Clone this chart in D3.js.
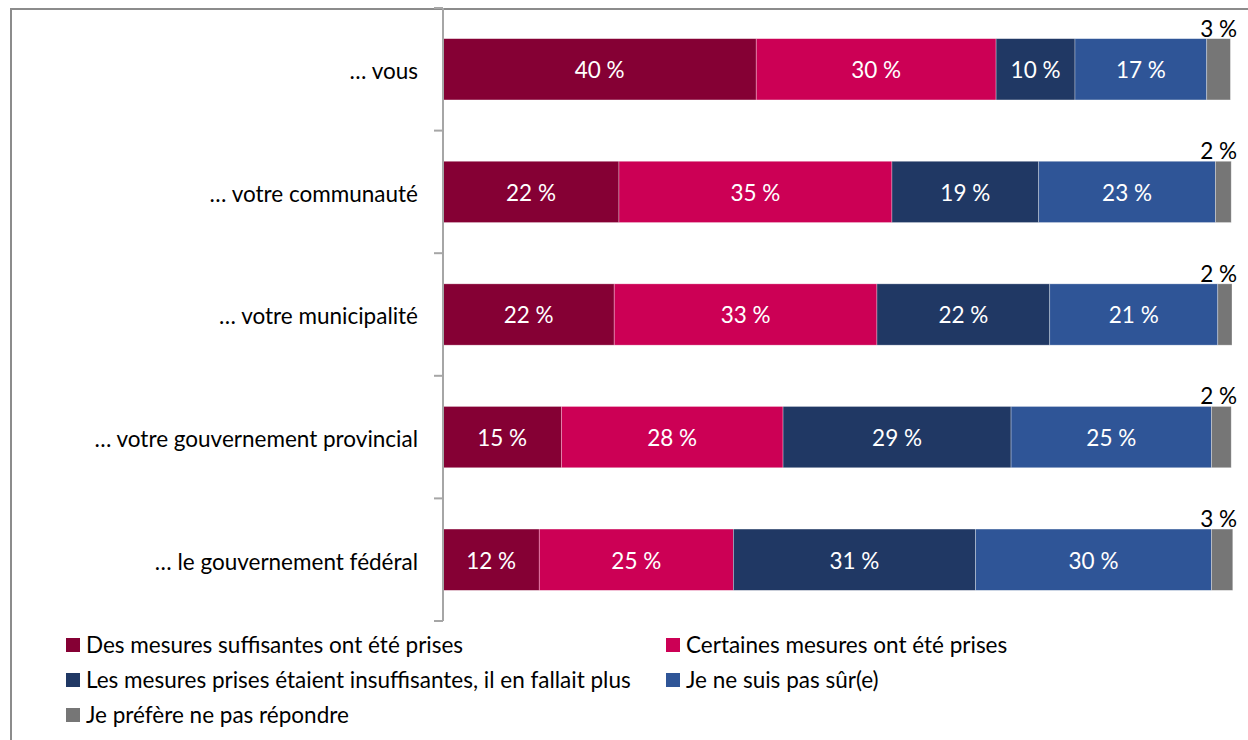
<!DOCTYPE html>
<html><head><meta charset="utf-8">
<script src="https://cdn.jsdelivr.net/npm/d3@7"></script>
<style>html,body{margin:0;padding:0;background:#fff;}svg{display:block;font-family:Lato,"Open Sans",sans-serif;}</style>
</head><body>
<svg id="c" width="1248" height="740"></svg>
<script>
const categories = ["… vous","… votre communauté","… votre municipalité","… votre gouvernement provincial","… le gouvernement fédéral"];
const seriesNames = ["Des mesures suffisantes ont été prises","Certaines mesures ont été prises","Les mesures prises étaient insuffisantes, il en fallait plus","Je ne suis pas sûr(e)","Je préfère ne pas répondre"];
const sufficient = [39.7,22.3,21.7,15.0,12.2];
const some = [30.4,34.6,33.3,28.1,24.6];
const insufficient = [10.0,18.6,21.9,28.9,30.7];
const notSure = [16.7,22.4,21.3,25.4,29.9];
const noAnswer = [3.0,2.0,1.8,2.5,2.7];
const labels = [
  ["40 %","30 %","10 %","17 %","3 %"],
  ["22 %","35 %","19 %","23 %","2 %"],
  ["22 %","33 %","22 %","21 %","2 %"],
  ["15 %","28 %","29 %","25 %","2 %"],
  ["12 %","25 %","31 %","30 %","3 %"]
];
const colors = ["#850034","#CC0055","#203864","#2F5597","#767676"];
const seriesVals = [sufficient,some,insufficient,notSure,noAnswer];
const FS = 22.5;

const svg = d3.select("#c");
// frame
svg.append("rect").attr("x",11).attr("y",9).attr("width",1300).attr("height",800)
  .attr("fill","none").attr("stroke","#8c8c8c").attr("stroke-width",2);

const x = d3.scaleLinear().domain([0,100]).range([443,1232]);
const y = d3.scaleBand().domain(categories).range([8,621]).paddingInner(0.5).paddingOuter(0.25);

const rows = categories.map((c,i)=>{
  let acc=0;
  return seriesVals.map((s,j)=>{const d={cat:c,i,j,x0:acc,x1:acc+s[i],label:labels[i][j]};acc+=s[i];return d;});
});

const g = svg.append("g");
rows.forEach(r=>{
  g.selectAll(null).data(r).enter().append("rect")
    .attr("x",d=>x(d.x0)).attr("width",d=>x(d.x1)-x(d.x0))
    .attr("y",d=>y(d.cat)).attr("height",y.bandwidth())
    .attr("fill",d=>colors[d.j])
    .attr("stroke","rgba(255,255,255,0.45)").attr("stroke-width",0.7);
  g.selectAll(null).data(r.filter(d=>d.j<4)).enter().append("text")
    .attr("x",d=>(x(d.x0)+x(d.x1))/2).attr("y",d=>y(d.cat)+y.bandwidth()/2+1)
    .attr("dy","0.35em").attr("text-anchor","middle").attr("fill","#fff")
    .attr("font-size",FS).text(d=>d.label);
  g.selectAll(null).data(r.filter(d=>d.j===4)).enter().append("text")
    .attr("x",x(100)+5).attr("y",d=>y(d.cat)-10)
    .attr("dy","0.35em").attr("text-anchor","end").attr("fill","#000")
    .attr("font-size",FS).text(d=>d.label);
});

// axis
const step = y.step(), gap = step - y.bandwidth();
const bounds = categories.map(c=>y(c)-gap/2).concat([y(categories[categories.length-1])+y.bandwidth()+gap/2]);
svg.append("line").attr("x1",443).attr("x2",443).attr("y1",bounds[0]).attr("y2",bounds[bounds.length-1])
  .attr("stroke","#a6a6a6").attr("stroke-width",2);
svg.selectAll(null).data(bounds).enter().append("line")
  .attr("x1",434).attr("x2",443).attr("y1",d=>d).attr("y2",d=>d)
  .attr("stroke","#a6a6a6").attr("stroke-width",2);
svg.selectAll(null).data(categories).enter().append("text")
  .attr("x",418).attr("y",d=>y(d)+y.bandwidth()/2+2).attr("dy","0.35em")
  .attr("text-anchor","end").attr("font-size",FS).attr("fill","#000").text(d=>d);

// legend
const legPos = [[66,645],[666,645],[66,680],[666,680],[66,715]];
const lg = svg.selectAll(null).data(seriesNames).enter().append("g")
  .attr("transform",(d,i)=>`translate(${legPos[i][0]},${legPos[i][1]})`);
lg.append("rect").attr("x",0).attr("y",-7).attr("width",14).attr("height",14).attr("fill",(d,i)=>colors[i]);
lg.append("text").attr("x",20).attr("y",0).attr("dy","0.35em").attr("font-size",FS).attr("fill","#000").text(d=>d);
</script>
</body></html>
